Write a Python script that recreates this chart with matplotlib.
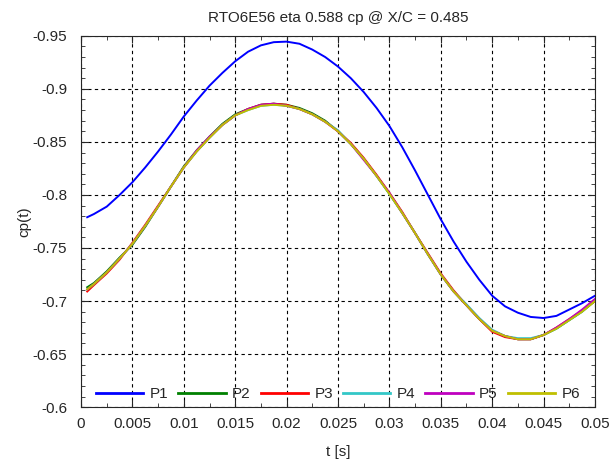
"""
cp(t) time history at X/C = 0.485, probes P1-P6
"""

### Import modules
import numpy as np
import matplotlib
matplotlib.use('Agg')
import matplotlib.pyplot as plt
from matplotlib.ticker import MultipleLocator, FormatStrFormatter

### Data
t = [0.0006, 0.00125, 0.0025, 0.00375, 0.005, 0.00625, 0.0075, 0.00875,
     0.01, 0.01125, 0.0125, 0.01375, 0.015, 0.01625, 0.0175, 0.01875,
     0.02, 0.02125, 0.0225, 0.02375, 0.025, 0.02625, 0.0275, 0.02875,
     0.03, 0.03125, 0.0325, 0.03375, 0.035, 0.03625, 0.0375, 0.03875,
     0.04, 0.04125, 0.0425, 0.04375, 0.045, 0.04625, 0.0475, 0.04875, 0.05]

P1 = [-0.779, -0.782, -0.789, -0.800, -0.812, -0.826, -0.841, -0.857,
      -0.874, -0.889, -0.903, -0.915, -0.926, -0.935, -0.941, -0.944,
      -0.9445, -0.9425, -0.937, -0.930, -0.921, -0.910, -0.897, -0.882,
      -0.865, -0.845, -0.823, -0.800, -0.777, -0.756, -0.737, -0.720,
      -0.705, -0.695, -0.689, -0.685, -0.684, -0.686, -0.692, -0.698, -0.705]
P2 = [-0.713, -0.717, -0.728, -0.741, -0.753, -0.770, -0.789, -0.808,
      -0.827, -0.842, -0.855, -0.867, -0.876, -0.881, -0.885, -0.886,
      -0.885, -0.882, -0.877, -0.870, -0.860, -0.848, -0.834, -0.818,
      -0.801, -0.783, -0.764, -0.744, -0.725, -0.709, -0.696, -0.683,
      -0.672, -0.667, -0.664, -0.664, -0.668, -0.674, -0.682, -0.690, -0.700]
P3 = [-0.709, -0.715, -0.726, -0.739, -0.755, -0.772, -0.790, -0.808,
      -0.826, -0.841, -0.854, -0.866, -0.875, -0.881, -0.885, -0.886,
      -0.885, -0.881, -0.876, -0.869, -0.860, -0.849, -0.835, -0.819,
      -0.802, -0.784, -0.764, -0.745, -0.726, -0.710, -0.696, -0.683,
      -0.671, -0.666, -0.664, -0.664, -0.668, -0.675, -0.683, -0.691, -0.700]
P4 = [-0.711, -0.716, -0.727, -0.740, -0.754, -0.771, -0.789, -0.808,
      -0.826, -0.841, -0.854, -0.866, -0.875, -0.880, -0.884, -0.885,
      -0.884, -0.881, -0.876, -0.869, -0.861, -0.848, -0.834, -0.818,
      -0.801, -0.783, -0.764, -0.744, -0.725, -0.709, -0.697, -0.684,
      -0.673, -0.667, -0.665, -0.665, -0.668, -0.674, -0.682, -0.690, -0.701]
P5 = [-0.711, -0.716, -0.727, -0.740, -0.754, -0.771, -0.789, -0.808,
      -0.826, -0.842, -0.855, -0.866, -0.875, -0.881, -0.885, -0.886,
      -0.884, -0.881, -0.876, -0.869, -0.860, -0.848, -0.833, -0.818,
      -0.802, -0.783, -0.764, -0.744, -0.725, -0.709, -0.696, -0.683,
      -0.672, -0.667, -0.664, -0.664, -0.668, -0.675, -0.683, -0.692, -0.702]
P6 = [-0.711, -0.716, -0.727, -0.740, -0.754, -0.771, -0.789, -0.808,
      -0.826, -0.841, -0.854, -0.866, -0.875, -0.880, -0.884, -0.885,
      -0.884, -0.881, -0.876, -0.869, -0.860, -0.848, -0.834, -0.818,
      -0.801, -0.783, -0.764, -0.744, -0.725, -0.709, -0.696, -0.683,
      -0.672, -0.667, -0.664, -0.664, -0.668, -0.674, -0.682, -0.690, -0.700]

names = ['P1', 'P2', 'P3', 'P4', 'P5', 'P6']
series = [P1, P2, P3, P4, P5, P6]
colors = [(0, 0, 1), (0, 0.5, 0), (1, 0, 0), (0.2, 0.78, 0.78),
          (0.75, 0, 0.75), (0.75, 0.75, 0)]

### Plot
plt.rc('font', family=['Liberation Sans', 'DejaVu Sans'], size=11)
txt = (0.15, 0.15, 0.15)

fig = plt.figure(figsize=(6.14, 4.59), dpi=100)
ax = fig.add_axes([0.132, 0.113, 0.837, 0.809])

for name, y, c in zip(names, series, colors):
    ax.plot(t, y, color=c, linewidth=1.4, label=name)

ax.set_xlim(0, 0.05)
ax.set_ylim(-0.6, -0.95)
ax.xaxis.set_major_locator(MultipleLocator(0.005))
ax.xaxis.set_minor_locator(MultipleLocator(0.0025))
ax.yaxis.set_major_locator(MultipleLocator(0.05))
ax.yaxis.set_minor_locator(MultipleLocator(0.01))
ax.xaxis.set_major_formatter(FormatStrFormatter('%g'))
ax.yaxis.set_major_formatter(FormatStrFormatter('%g'))

ax.tick_params(which='both', direction='in', top=True, right=True,
               colors=txt, labelsize=11)
ax.tick_params(axis='x', which='major', length=5, pad=7)
ax.tick_params(axis='y', which='major', length=5, pad=10)
ax.tick_params(which='minor', length=3)
for s in ax.spines.values():
    s.set_color(txt)
    s.set_linewidth(0.8)

ax.grid(True, which='major', color='k', linestyle=(0, (3, 3)), linewidth=0.8)

ax.set_title('RTO6E56 eta 0.588 cp @ X/C = 0.485', fontsize=11, color=txt, pad=10)
ax.set_xlabel('t [s]', fontsize=11, color=txt, labelpad=10)
ax.set_ylabel('cp(t)', fontsize=11, color=txt, labelpad=1)

leg = ax.legend(loc='lower center', bbox_to_anchor=(0.5, 0.0), ncol=6,
                frameon=False, handlelength=3.1, handletextpad=0.4,
                columnspacing=0.67, borderaxespad=0.0, fontsize=11)
for text in leg.get_texts():
    text.set_color(txt)
for line in leg.get_lines():
    line.set_linewidth(2.0)

plt.savefig('out.png', dpi=100)
